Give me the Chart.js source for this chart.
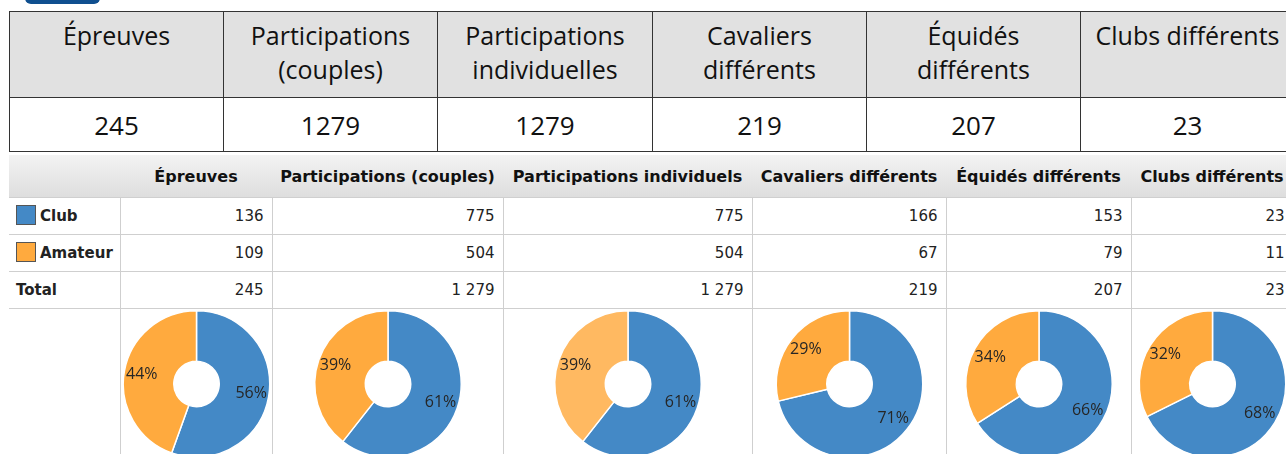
<!DOCTYPE html>
<html>
<head>
<meta charset="utf-8">
<script src="https://cdn.jsdelivr.net/npm/chart.js@4"></script>
<style>
  body { margin:0; width:1286px; height:454px; overflow:hidden; background:#fff; position:relative; }
  .btn { position:absolute; left:25px; top:-10px; width:75px; height:14px; background:#0f4f8f; border-radius:6px; }
  #top { position:absolute; left:9px; top:11px; border-collapse:collapse; table-layout:fixed; font-family:"Open Sans", sans-serif; color:#111; }
  #top td { border:1px solid #333; text-align:center; font-size:25px; padding:0; }
  #top tr.h td { background:#e1e1e1; height:86px; vertical-align:top; line-height:34px; padding-top:6px; box-sizing:border-box; white-space:pre-line; }
  #top tr.v td { height:53px; font-size:26px; }
  #bot { position:absolute; left:9px; top:155px; border-collapse:collapse; table-layout:fixed; font-family:"DejaVu Sans", sans-serif; font-size:15px; color:#222; }
  #bot th { background:linear-gradient(#f3f3f3,#dedede); height:42px; font-size:16px; font-weight:bold; text-align:center; padding:0; white-space:nowrap; color:#111; overflow:visible; }
  #bot td { border:1px solid #cfcfcf; height:37px; padding:0 8px 0 8px; text-align:right; box-sizing:border-box; white-space:nowrap; }
  #bot td.lab { text-align:left; font-weight:bold; padding-left:7px; border-left:none; }
  #bot tr.pies td { height:150px; padding:0; vertical-align:top; border-bottom:none; }
  .sq { display:inline-block; width:18px; height:18px; border:1px solid #555; vertical-align:middle; margin-right:4px; margin-top:-3px; }
  .pie { width:100%; height:150px; position:relative; }
</style>
</head>
<body>
<div class="btn"></div>
<table id="top"></table>
<table id="bot"></table>
<script>
const topHeaders = ['Épreuves', 'Participations\n(couples)', 'Participations\nindividuelles', 'Cavaliers\ndifférents', 'Équidés\ndifférents', 'Clubs différents'];
const categories = ['Épreuves', 'Participations (couples)', 'Participations individuels', 'Cavaliers différents', 'Équidés différents', 'Clubs différents'];
const seriesNames = ['Club', 'Amateur'];
const club = [136, 775, 775, 166, 153, 23];
const amateur = [109, 504, 504, 67, 79, 11];
const totals = [245, 1279, 1279, 219, 207, 23];

const blue = '#4489c6';
const orange = '#ffaa3e';
const orangeHover = '#ffb961';
const topWidths = [214, 214, 215, 214, 214, 214];
const botWidths = [111, 152, 231, 249, 194, 185, 162];

function fmt(n) {
  return String(n).replace(/\B(?=(\d{3})+(?!\d))/g, ' ');
}

// tableau du haut
const topTable = document.getElementById('top');
topTable.style.width = topWidths.reduce((a, b) => a + b, 0) + 'px';
let html = '<colgroup>' + topWidths.map(w => '<col style="width:' + w + 'px">').join('') + '</colgroup>';
html += '<tr class="h">' + topHeaders.map(h => '<td>' + h + '</td>').join('') + '</tr>';
html += '<tr class="v">' + totals.map(v => '<td>' + v + '</td>').join('') + '</tr>';
topTable.innerHTML = html;

// tableau du bas
const botTable = document.getElementById('bot');
botTable.style.width = botWidths.reduce((a, b) => a + b, 0) + 'px';
html = '<colgroup>' + botWidths.map(w => '<col style="width:' + w + 'px">').join('') + '</colgroup>';
html += '<tr><th></th>' + categories.map(c => '<th>' + c + '</th>').join('') + '</tr>';
html += '<tr><td class="lab"><span class="sq" style="background:' + blue + '"></span>' + seriesNames[0] + '</td>' + club.map(v => '<td>' + fmt(v) + '</td>').join('') + '</tr>';
html += '<tr><td class="lab"><span class="sq" style="background:' + orange + '"></span>' + seriesNames[1] + '</td>' + amateur.map(v => '<td>' + fmt(v) + '</td>').join('') + '</tr>';
html += '<tr><td class="lab">Total</td>' + totals.map(v => '<td>' + fmt(v) + '</td>').join('') + '</tr>';
html += '<tr class="pies"><td class="lab"></td>' + categories.map((c, i) => '<td><div class="pie"><canvas id="pie' + i + '"></canvas></div></td>').join('') + '</tr>';
botTable.innerHTML = html;

// étiquettes en pourcentage
const pctLabels = {
  id: 'pctLabels',
  afterDatasetsDraw(chart) {
    const ctx = chart.ctx;
    const ds = chart.data.datasets[0];
    const sum = ds.data.reduce((a, b) => a + b, 0);
    chart.getDatasetMeta(0).data.forEach((arc, i) => {
      const p = arc.getProps(['x', 'y', 'startAngle', 'endAngle', 'innerRadius', 'outerRadius']);
      const a = (p.startAngle + p.endAngle) / 2;
      const r = p.innerRadius + (p.outerRadius - p.innerRadius) * 0.65;
      ctx.save();
      ctx.font = '16px "Open Sans", sans-serif';
      ctx.fillStyle = '#262626';
      ctx.textAlign = 'center';
      ctx.textBaseline = 'middle';
      ctx.fillText(Math.round(ds.data[i] / sum * 100) + '%', p.x + Math.cos(a) * r, p.y + Math.sin(a) * r);
      ctx.restore();
    });
  }
};

categories.forEach((c, i) => {
  const ctx = document.getElementById('pie' + i).getContext('2d');
  new Chart(ctx, {
    type: 'doughnut',
    data: {
      labels: seriesNames,
      datasets: [{
        data: [club[i], amateur[i]],
        backgroundColor: [blue, i === 2 ? orangeHover : orange],
        borderColor: '#ffffff',
        borderWidth: 1.5
      }]
    },
    options: {
      responsive: true,
      maintainAspectRatio: false,
      animation: false,
      cutout: '31%',
      layout: { padding: 1 },
      plugins: { legend: { display: false }, tooltip: { enabled: false } }
    },
    plugins: [pctLabels]
  });
});
</script>
</body>
</html>
